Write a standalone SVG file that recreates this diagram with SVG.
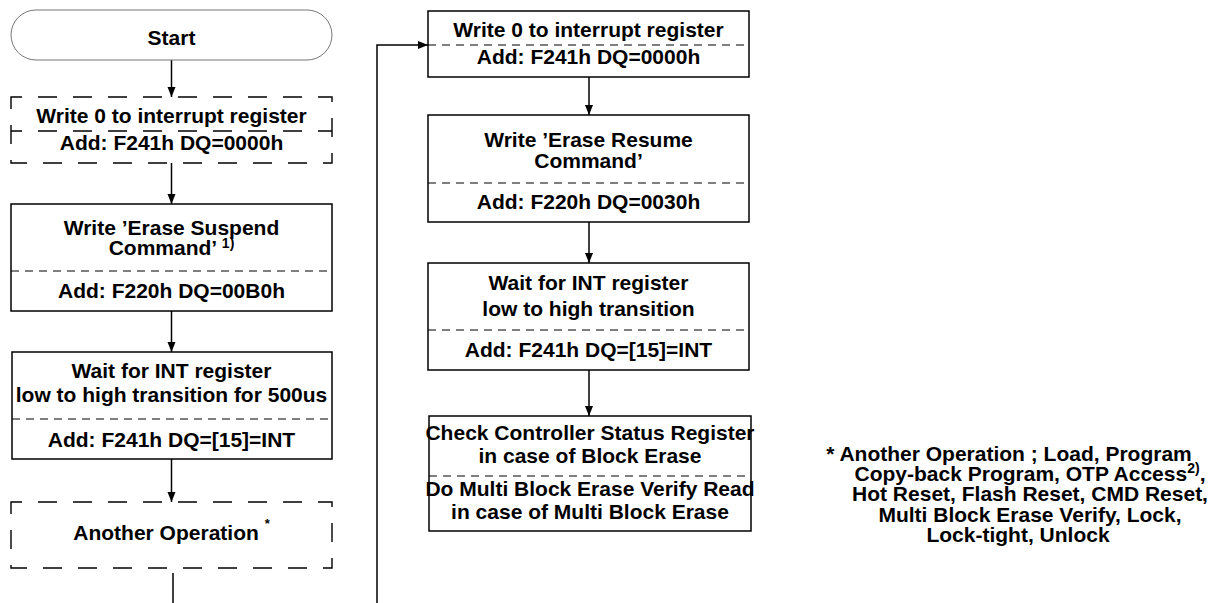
<svg xmlns="http://www.w3.org/2000/svg" width="1214" height="603" viewBox="0 0 1214 603">
<style>
text{font-family:"Liberation Sans",Arial,sans-serif;font-weight:bold;font-size:21px;fill:#000;text-anchor:middle}
.box{fill:#fff;stroke:#000;stroke-width:1.5}
.dbox{fill:#fff;stroke:#000;stroke-width:1.4;stroke-dasharray:19 16;stroke-dashoffset:8}
.div{stroke:#000;stroke-width:1.2;stroke-dasharray:8 6;fill:none}
.ddiv{stroke:#000;stroke-width:1.4;stroke-dasharray:19 16;stroke-dashoffset:8;fill:none}
.con{stroke:#000;stroke-width:1.5;fill:none}
.sup{font-size:14px}
.ast{font-size:13px}
</style>
<defs>
<marker id="ah" markerUnits="userSpaceOnUse" markerWidth="10" markerHeight="10" refX="10" refY="4" orient="auto">
<path d="M0,0 L10,4 L0,8 z" fill="#000"/>
</marker>
</defs>
<rect width="1214" height="603" fill="#fff"/>

<g id="connectors">
<line class="con" x1="171.5" y1="60" x2="171.5" y2="97" marker-end="url(#ah)"/>
<line class="con" x1="171.5" y1="163" x2="171.5" y2="204" marker-end="url(#ah)"/>
<line class="con" x1="171.5" y1="311" x2="171.5" y2="352" marker-end="url(#ah)"/>
<line class="con" x1="171.5" y1="459" x2="171.5" y2="502" marker-end="url(#ah)"/>
<line class="con" x1="173" y1="573" x2="173" y2="603"/>
<polyline class="con" points="377,603 377,45 428,45" marker-end="url(#ah)"/>
<line class="con" x1="589" y1="77" x2="589" y2="115" marker-end="url(#ah)"/>
<line class="con" x1="589" y1="222" x2="589" y2="263" marker-end="url(#ah)"/>
<line class="con" x1="589" y1="370" x2="589" y2="416" marker-end="url(#ah)"/>
</g>

<g id="start">
<rect x="11" y="10" width="321" height="50" rx="25" ry="25" fill="#fff" stroke="#777" stroke-width="1"/>
<text x="171.5" y="45">Start</text>
</g>

<g id="write0-left">
<rect class="dbox" x="11" y="97" width="321" height="66"/>
<line class="ddiv" x1="11" y1="131" x2="332" y2="131"/>
<text x="171.5" y="123">Write 0 to interrupt register</text>
<text x="171.5" y="150">Add: F241h DQ=0000h</text>
</g>

<g id="erase-suspend">
<rect class="box" x="11" y="204" width="321" height="107"/>
<line class="div" x1="11" y1="271" x2="332" y2="271"/>
<text x="171.5" y="235">Write ’Erase Suspend</text>
<text x="171.5" y="255">Command’ <tspan class="sup" dy="-7">1)</tspan></text>
<text x="171.5" y="298">Add: F220h DQ=00B0h</text>
</g>

<g id="wait-left">
<rect class="box" x="12" y="352" width="320" height="107"/>
<line class="div" x1="12" y1="419" x2="332" y2="419"/>
<text x="171.5" y="378">Wait for INT register</text>
<text x="171.5" y="402">low to high transition for 500us</text>
<text x="171.5" y="447">Add: F241h DQ=[15]=INT</text>
</g>

<g id="another-op">
<rect class="dbox" x="11" y="502" width="321" height="66"/>
<text x="171.5" y="540">Another Operation <tspan class="ast" dy="-12">*</tspan></text>
</g>

<g id="write0-right">
<rect class="box" x="428" y="11" width="321" height="66"/>
<line class="div" x1="428" y1="45" x2="749" y2="45"/>
<text x="588.5" y="37">Write 0 to interrupt register</text>
<text x="588.5" y="64">Add: F241h DQ=0000h</text>
</g>

<g id="erase-resume">
<rect class="box" x="428" y="115" width="321" height="107"/>
<line class="div" x1="428" y1="183" x2="749" y2="183"/>
<text x="588.5" y="147">Write ’Erase Resume</text>
<text x="588.5" y="168">Command’</text>
<text x="588.5" y="209">Add: F220h DQ=0030h</text>
</g>

<g id="wait-right">
<rect class="box" x="428" y="263" width="321" height="107"/>
<line class="div" x1="428" y1="330" x2="749" y2="330"/>
<text x="588.5" y="290">Wait for INT register</text>
<text x="588.5" y="316">low to high transition</text>
<text x="588.5" y="357">Add: F241h DQ=[15]=INT</text>
</g>

<g id="check-status">
<rect class="box" x="429" y="416" width="322" height="115"/>
<line class="div" x1="429" y1="476" x2="751" y2="476"/>
<text x="590" y="440">Check Controller Status Register</text>
<text x="590" y="463">in case of Block Erase</text>
<text x="590" y="496">Do Multi Block Erase Verify Read</text>
<text x="590" y="519">in case of Multi Block Erase</text>
</g>

<g id="footnote">
<text x="1009" y="461">* Another Operation ; Load, Program</text>
<text x="1030" y="481">Copy-back Program, OTP Access<tspan class="sup" dy="-8">2)</tspan><tspan dy="8">,</tspan></text>
<text x="1030" y="501">Hot Reset, Flash Reset, CMD Reset,</text>
<text x="1030" y="522">Multi Block Erase Verify, Lock,</text>
<text x="1018" y="542">Lock-tight, Unlock</text>
</g>
</svg>
